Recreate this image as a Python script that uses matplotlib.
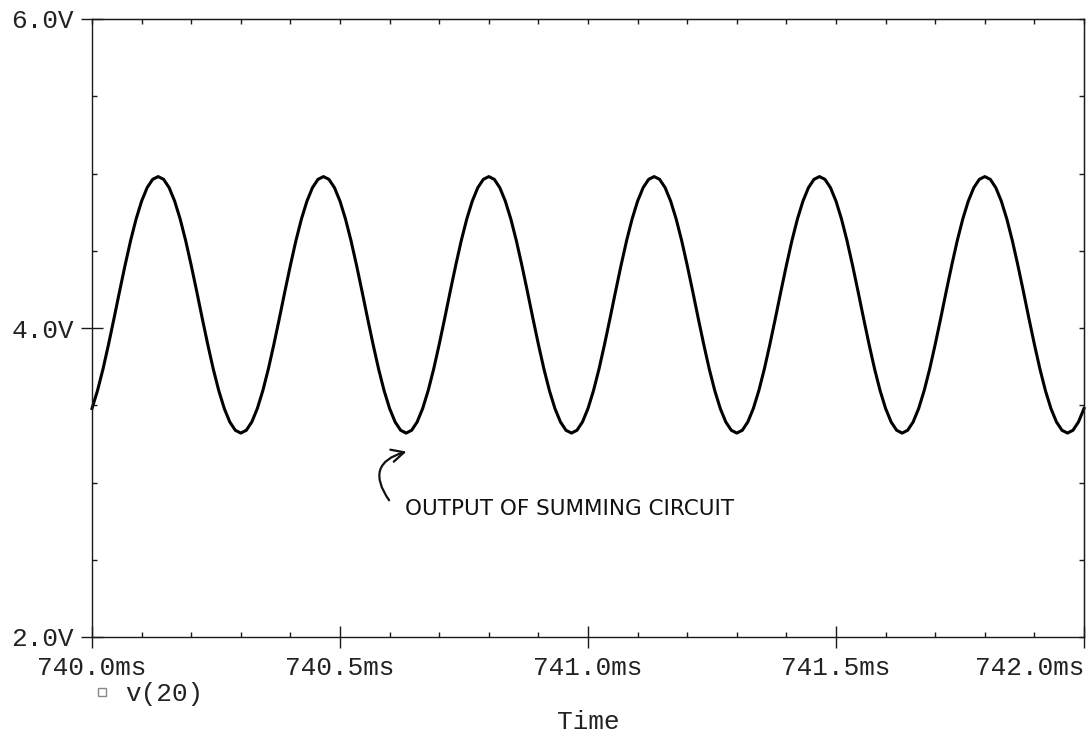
import numpy as np
import matplotlib
matplotlib.use('Agg')
import matplotlib.pyplot as plt

from matplotlib.lines import Line2D
from matplotlib.ticker import MultipleLocator, FuncFormatter, NullFormatter

# transient window (ms) and number of saved time points
t_start   = 740.0
t_stop    = 742.0
n_samples = 181

# v(20) in volts at each saved time point
v20 = [
    3.479, 3.595, 3.735, 3.894, 4.063, 4.237, 4.406, 4.565, 4.705, 4.821, 4.908, 4.962, 4.980, 4.962, 4.908,
    4.821, 4.705, 4.565, 4.406, 4.237, 4.063, 3.894, 3.735, 3.595, 3.479, 3.392, 3.338, 3.320, 3.338, 3.392,
    3.479, 3.595, 3.735, 3.894, 4.063, 4.237, 4.406, 4.565, 4.705, 4.821, 4.908, 4.962, 4.980, 4.962, 4.908,
    4.821, 4.705, 4.565, 4.406, 4.237, 4.063, 3.894, 3.735, 3.595, 3.479, 3.392, 3.338, 3.320, 3.338, 3.392,
    3.479, 3.595, 3.735, 3.894, 4.063, 4.237, 4.406, 4.565, 4.705, 4.821, 4.908, 4.962, 4.980, 4.962, 4.908,
    4.821, 4.705, 4.565, 4.406, 4.237, 4.063, 3.894, 3.735, 3.595, 3.479, 3.392, 3.338, 3.320, 3.338, 3.392,
    3.479, 3.595, 3.735, 3.894, 4.063, 4.237, 4.406, 4.565, 4.705, 4.821, 4.908, 4.962, 4.980, 4.962, 4.908,
    4.821, 4.705, 4.565, 4.406, 4.237, 4.063, 3.894, 3.735, 3.595, 3.479, 3.392, 3.338, 3.320, 3.338, 3.392,
    3.479, 3.595, 3.735, 3.894, 4.063, 4.237, 4.406, 4.565, 4.705, 4.821, 4.908, 4.962, 4.980, 4.962, 4.908,
    4.821, 4.705, 4.565, 4.406, 4.237, 4.063, 3.894, 3.735, 3.595, 3.479, 3.392, 3.338, 3.320, 3.338, 3.392,
    3.479, 3.595, 3.735, 3.894, 4.063, 4.237, 4.406, 4.565, 4.705, 4.821, 4.908, 4.962, 4.980, 4.962, 4.908,
    4.821, 4.705, 4.565, 4.406, 4.237, 4.063, 3.894, 3.735, 3.595, 3.479, 3.392, 3.338, 3.320, 3.338, 3.392,
    3.479,
]

xticks = [740.0, 740.5, 741.0, 741.5, 742.0]
yticks = [2.0, 4.0, 6.0]

trace_name = 'v(20)'
x_title    = 'Time'

note      = 'OUTPUT OF SUMMING CIRCUIT'
note_pos  = (740.631, 2.83)
note_tail = (740.599, 2.885)
note_tip  = (740.634, 3.20)

plt.rcParams['font.family'] = ['Liberation Mono', 'DejaVu Sans']

INK = '#1a1a1a'

#----------------------------------------------------------------------------------------------
def setupAxes(fig):

    ax = fig.add_axes([92/1088, 1 - 637/738, 992/1088, 618/738])

    ax.set_xlim(t_start, t_stop)
    ax.set_ylim(yticks[0], yticks[-1])

    for s in ax.spines.values():
        s.set_linewidth(1.0)
        s.set_color(INK)

    ax.set_xticks(xticks)
    ax.set_yticks(yticks)
    ax.xaxis.set_minor_locator(MultipleLocator(0.1))
    ax.yaxis.set_minor_locator(MultipleLocator(0.5))

    ax.xaxis.set_major_formatter(FuncFormatter(lambda v, pos: '{:.1f}ms'.format(v)))
    ax.yaxis.set_major_formatter(FuncFormatter(lambda v, pos: '{:.1f}V'.format(v)))

    ax.tick_params(which='major', direction='inout', length=16, width=1.0, color=INK,
                   labelsize=18.8, labelcolor='#222222')
    ax.tick_params(which='minor', direction='in', length=3.5, width=1.0, color=INK)
    ax.tick_params(axis='x', which='major', pad=6)
    ax.tick_params(axis='y', which='major', pad=5)

    # top and right edges carry inward ticks only
    top = ax.secondary_xaxis('top')
    top.set_xticks(xticks)
    top.xaxis.set_minor_locator(MultipleLocator(0.1))
    top.xaxis.set_major_formatter(NullFormatter())
    top.tick_params(which='both', direction='in', length=3.5, width=1.0, color=INK)

    right = ax.secondary_yaxis('right')
    right.set_yticks(yticks)
    right.yaxis.set_minor_locator(MultipleLocator(0.5))
    right.yaxis.set_major_formatter(NullFormatter())
    right.tick_params(which='both', direction='in', length=3.5, width=1.0, color=INK)

    fig.canvas.draw()
    ax.get_xticklabels()[-1].set_ha('right')

    return ax

#----------------------------------------------------------------------------------------------
def main():

    fig = plt.figure(figsize=(10.88, 7.38), dpi=100)
    ax = setupAxes(fig)

    t = np.linspace(t_start, t_stop, n_samples)
    ax.plot(t, v20, color='black', lw=2.2, solid_joinstyle='round', clip_on=False)

    ax.set_xlabel(x_title, fontsize=18.8, color='#222222')
    ax.xaxis.set_label_coords(0.5, -0.118)
    ax.xaxis.label.set_va('top')

    proxy = Line2D([], [], ls='none', marker='s', ms=6, mfc='none', mec='#888888', mew=1.0)
    ax.legend(handles=[proxy], labels=[trace_name], loc='upper left',
              bbox_to_anchor=(94/1088, 1 - 682/738), bbox_transform=fig.transFigure,
              frameon=False, fontsize=18.8, labelcolor='#222222', handlelength=0.6,
              handletextpad=0.6, borderpad=0, borderaxespad=0)

    # hand-written note on the trace
    ax.text(note_pos[0], note_pos[1], note, family='DejaVu Sans', fontsize=15.5,
            ha='left', va='center', color='#111111')
    ax.annotate('', xy=note_tip, xytext=note_tail,
                arrowprops=dict(arrowstyle='->, head_length=0.9, head_width=0.45',
                                connectionstyle='arc3,rad=-0.7', lw=1.6, color='#111111',
                                shrinkA=0, shrinkB=0))

    fig.savefig('out.png', dpi=100)

#------------------------------------------------------------------------------#
if __name__ == "__main__":
    main()
